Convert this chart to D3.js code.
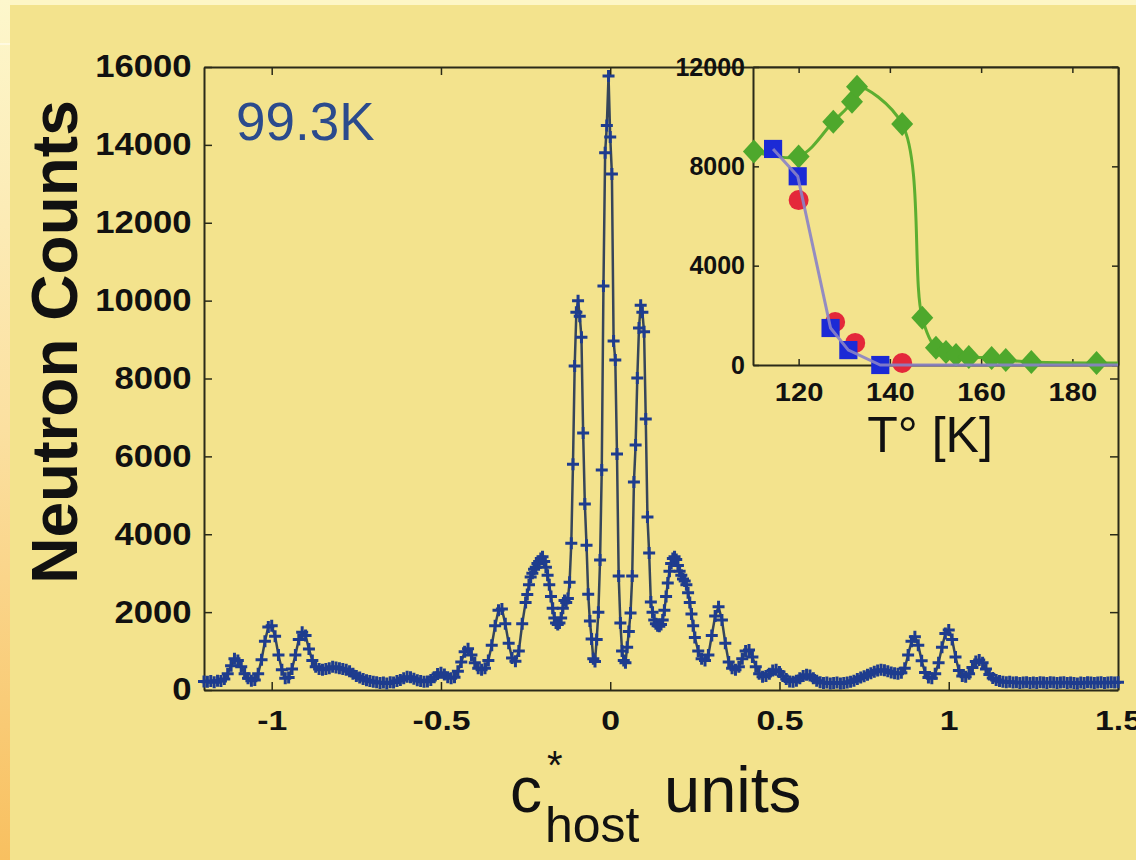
<!DOCTYPE html>
<html lang="en">
<head>
<meta charset="UTF-8">
<title>Neutron Counts - 99.3K</title>
<script src="https://d3js.org/d3.v7.min.js"></script>
<style>
  body { margin: 0; background: #f3e38d; }
  svg { display: block; }
  text { font-family: "Liberation Sans", Arial, sans-serif; fill: #111; }
  .tick text { font-weight: bold; }
  .domain { stroke: #2a2a18; stroke-width: 2; }
  .tick line { stroke: #2a2a18; stroke-width: 1.5; }
</style>
</head>
<body>
<svg id="chart" width="1136" height="860"></svg>
<script>
// main scan: [c* host units, neutron counts]
const scanPoints = [
  [-1.20, 220], [-1.19, 210], [-1.18, 230], [-1.17, 200], [-1.16, 240], [-1.15, 230],
  [-1.14, 280], [-1.13, 420], [-1.12, 620], [-1.11, 800], [-1.10, 760], [-1.09, 600],
  [-1.08, 420], [-1.07, 300], [-1.06, 240], [-1.05, 260], [-1.04, 420], [-1.03, 780],
  [-1.02, 1250], [-1.01, 1620], [-1.00, 1650], [-0.99, 1380], [-0.98, 900], [-0.97, 520],
  [-0.96, 300], [-0.95, 320], [-0.94, 540], [-0.93, 900], [-0.92, 1300], [-0.91, 1480],
  [-0.90, 1400], [-0.89, 1050], [-0.88, 760], [-0.87, 600], [-0.86, 540], [-0.85, 520],
  [-0.84, 540], [-0.83, 560], [-0.82, 600], [-0.81, 580], [-0.80, 560], [-0.79, 540],
  [-0.78, 520], [-0.77, 480], [-0.76, 420], [-0.75, 360], [-0.74, 320], [-0.73, 280],
  [-0.72, 250], [-0.71, 230], [-0.70, 210], [-0.69, 200], [-0.68, 180], [-0.67, 190],
  [-0.66, 170], [-0.65, 200], [-0.64, 190], [-0.63, 230], [-0.62, 260], [-0.61, 300],
  [-0.60, 340], [-0.59, 330], [-0.58, 290], [-0.57, 250], [-0.56, 230], [-0.55, 210],
  [-0.54, 220], [-0.53, 260], [-0.52, 330], [-0.51, 410], [-0.50, 440], [-0.49, 400],
  [-0.48, 330], [-0.47, 300], [-0.46, 330], [-0.45, 480], [-0.44, 720], [-0.43, 980],
  [-0.42, 1060], [-0.41, 900], [-0.40, 700], [-0.39, 560], [-0.38, 520], [-0.37, 560],
  [-0.36, 760], [-0.35, 1150], [-0.34, 1650], [-0.33, 2050], [-0.32, 2080], [-0.31, 1700],
  [-0.30, 1200], [-0.29, 820], [-0.28, 740], [-0.27, 1000], [-0.26, 1700],
  [-0.250, 2250], [-0.245, 2450], [-0.240, 2700], [-0.235, 2900], [-0.230, 3000],
  [-0.225, 3100], [-0.220, 3150], [-0.215, 3250], [-0.210, 3300], [-0.205, 3380],
  [-0.200, 3420], [-0.195, 3300], [-0.190, 3150], [-0.185, 2950], [-0.180, 2700],
  [-0.175, 2400], [-0.170, 2100], [-0.165, 1850], [-0.160, 1720], [-0.155, 1680],
  [-0.150, 1720], [-0.145, 1850], [-0.140, 2100], [-0.135, 2300], [-0.130, 2250],
  [-0.125, 2350], [-0.120, 2770], [-0.115, 3770], [-0.110, 5800], [-0.105, 8320],
  [-0.100, 9700], [-0.095, 10000], [-0.090, 9600], [-0.085, 9060], [-0.080, 6600],
  [-0.075, 4780], [-0.070, 3720], [-0.065, 2460], [-0.060, 1770], [-0.055, 1310],
  [-0.050, 800], [-0.045, 730], [-0.040, 1300], [-0.035, 2000], [-0.030, 3340],
  [-0.025, 5650], [-0.020, 10375], [-0.015, 13800], [-0.010, 14500], [-0.005, 15770],
  [0.000, 14200], [0.005, 13250], [0.010, 8960], [0.015, 8475], [0.020, 6060],
  [0.025, 2930], [0.030, 1720], [0.035, 1000], [0.040, 760], [0.045, 700],
  [0.050, 1100], [0.055, 1500], [0.060, 1980], [0.065, 2930], [0.070, 5340],
  [0.075, 6290], [0.080, 8010], [0.085, 9300], [0.090, 9880], [0.095, 9700],
  [0.100, 9200], [0.105, 6960], [0.110, 4440], [0.115, 3520], [0.120, 2260],
  [0.125, 2000], [0.130, 1800], [0.135, 1700], [0.140, 1650], [0.145, 1640],
  [0.150, 1680], [0.155, 1800], [0.160, 2050], [0.165, 2400], [0.170, 2750],
  [0.175, 3050], [0.180, 3250], [0.185, 3380], [0.190, 3420], [0.195, 3350],
  [0.200, 3200], [0.205, 3050], [0.210, 2950], [0.215, 2850], [0.220, 2800],
  [0.225, 2700], [0.230, 2500], [0.235, 2250], [0.240, 1950], [0.245, 1650],
  [0.250, 1350],
  [0.26, 1000], [0.27, 800], [0.28, 760], [0.29, 900], [0.30, 1400], [0.31, 1900],
  [0.32, 2140], [0.33, 1800], [0.34, 1200], [0.35, 720], [0.36, 560], [0.37, 520],
  [0.38, 600], [0.39, 800], [0.40, 1000], [0.41, 1030], [0.42, 850], [0.43, 600],
  [0.44, 420], [0.45, 340], [0.46, 360], [0.47, 420], [0.48, 500], [0.49, 520],
  [0.50, 460], [0.51, 360], [0.52, 280], [0.53, 220], [0.54, 210], [0.55, 240],
  [0.56, 300], [0.57, 360], [0.58, 390], [0.59, 370], [0.60, 300], [0.61, 240],
  [0.62, 200], [0.63, 180], [0.64, 190], [0.65, 170], [0.66, 180], [0.67, 190],
  [0.68, 170], [0.69, 180], [0.70, 190], [0.71, 210], [0.72, 240], [0.73, 280],
  [0.74, 320], [0.75, 350], [0.76, 390], [0.77, 430], [0.78, 470], [0.79, 500],
  [0.80, 520], [0.81, 510], [0.82, 480], [0.83, 450], [0.84, 430], [0.85, 420],
  [0.86, 440], [0.87, 560], [0.88, 900], [0.89, 1250], [0.90, 1370], [0.91, 1150],
  [0.92, 750], [0.93, 450], [0.94, 320], [0.95, 300], [0.96, 420], [0.97, 700],
  [0.98, 1100], [0.99, 1450], [1.00, 1540], [1.01, 1300], [1.02, 850], [1.03, 500],
  [1.04, 360], [1.05, 340], [1.06, 420], [1.07, 580], [1.08, 730], [1.09, 770],
  [1.10, 700], [1.11, 540], [1.12, 400], [1.13, 310], [1.14, 260], [1.15, 230],
  [1.16, 210], [1.17, 200], [1.18, 210], [1.19, 190], [1.20, 200], [1.21, 180],
  [1.22, 190], [1.23, 200], [1.24, 180], [1.25, 190], [1.26, 180], [1.27, 200],
  [1.28, 190], [1.29, 180], [1.30, 200], [1.31, 190], [1.32, 180], [1.33, 190],
  [1.34, 200], [1.35, 180], [1.36, 190], [1.37, 180], [1.38, 170], [1.39, 190],
  [1.40, 180], [1.41, 200], [1.42, 190], [1.43, 180], [1.44, 190], [1.45, 200],
  [1.46, 180], [1.47, 190], [1.48, 200], [1.49, 190], [1.50, 200]
];
const mainXTicks = [-1, -0.5, 0, 0.5, 1, 1.5];
const mainYTicks = [0, 2000, 4000, 6000, 8000, 10000, 12000, 14000, 16000];
const tempLabel = "99.3K";

// inset: intensity vs temperature
const greenT = [110.2, 120, 127.6, 131.7, 132.8, 142.7, 147.1, 150.1, 152.3, 154.5, 157.3, 162.3, 165.4, 171, 185.3];
const greenCounts = [8600, 8400, 9800, 10600, 11200, 9700, 1900, 690, 520, 400, 320, 280, 200, 120, 80];
const blueT = [114.4, 119.8, 127, 130.9, 137.9];
const blueCounts = [8700, 7600, 1490, 600, 0];
const redT = [120, 128, 132.4, 142.7];
const redCounts = [6640, 1730, 890, 80];
const insetXTicks = [120, 140, 160, 180];
const insetYTicks = [0, 4000, 8000, 12000];

const svg = d3.select("#chart");

// slide background
const grad = svg.append("defs").append("linearGradient")
    .attr("id", "edge").attr("x1", 0).attr("y1", 0).attr("x2", 0).attr("y2", 1);
grad.append("stop").attr("offset", "0%").attr("stop-color", "#fdf7cc");
grad.append("stop").attr("offset", "50%").attr("stop-color", "#fbe0a0");
grad.append("stop").attr("offset", "100%").attr("stop-color", "#f8c060");

svg.append("rect").attr("width", 1136).attr("height", 860).attr("fill", "#f3e38d");
svg.append("rect").attr("width", 1136).attr("height", 5).attr("fill", "#fdf6c6");
svg.append("rect").attr("width", 10).attr("height", 860).attr("fill", "url(#edge)");
svg.append("line").attr("x1", 0).attr("x2", 10).attr("y1", 44).attr("y2", 44)
    .attr("stroke", "#fffbe8").attr("stroke-width", 1.5);

// main plot
const x = d3.scaleLinear().domain([-1.2, 1.5]).range([204, 1118]);
const y = d3.scaleLinear().domain([0, 16000]).range([690, 67]);

svg.append("g")
    .attr("transform", "translate(0,690)")
    .call(d3.axisBottom(x).tickValues(mainXTicks).tickSizeInner(-8).tickSizeOuter(0)
        .tickPadding(21).tickFormat(d => String(d)))
    .call(g => g.selectAll("text").attr("font-size", 27).attr("transform", "scale(1.25,1)"));

svg.append("g")
    .attr("transform", "translate(0,67)")
    .call(d3.axisTop(x).tickValues(mainXTicks).tickSizeInner(-8).tickSizeOuter(0).tickFormat(""));

svg.append("g")
    .attr("transform", "translate(204,0)")
    .call(d3.axisLeft(y).tickValues(mainYTicks).tickSizeInner(-8).tickSizeOuter(0)
        .tickPadding(11).tickFormat(d => String(d)))
    .call(g => g.selectAll("text").attr("font-size", 31).attr("transform", "scale(1.12,1)"));

svg.append("g")
    .attr("transform", "translate(1118,0)")
    .call(d3.axisRight(y).tickValues(mainYTicks).tickSizeInner(-8).tickSizeOuter(0).tickFormat(""));

const scanLine = d3.line()
    .x(d => x(d[0]))
    .y(d => y(d[1]));

svg.append("path")
    .datum(scanPoints)
    .attr("fill", "none")
    .attr("stroke", "#36465a")
    .attr("stroke-width", 2.5)
    .attr("d", scanLine);

svg.append("g")
    .selectAll("path")
    .data(scanPoints)
    .join("path")
    .attr("transform", d => `translate(${x(d[0])},${y(d[1])})`)
    .attr("d", "M-6,0H6M0,-6V6")
    .attr("stroke", "#1e3c8e")
    .attr("stroke-width", 3);

svg.append("text")
    .attr("x", 236).attr("y", 140)
    .attr("font-size", 53)
    .style("fill", "#2b4b8d")
    .text(tempLabel);

svg.append("text")
    .attr("transform", "translate(77,342) rotate(-90)")
    .attr("text-anchor", "middle")
    .attr("font-size", 64)
    .attr("font-weight", "bold")
    .text("Neutron Counts");

// x label: c*_host units
svg.append("text").attr("x", 510).attr("y", 812).attr("font-size", 64).text("c");
svg.append("text").attr("x", 547).attr("y", 779).attr("font-size", 40).text("*");
svg.append("text").attr("x", 545).attr("y", 842).attr("font-size", 50).text("host");
svg.append("text").attr("x", 664).attr("y", 812).attr("font-size", 65).text("units");

// inset
const ix = d3.scaleLinear().domain([110, 190]).range([753, 1118]);
const iy = d3.scaleLinear().domain([0, 12000]).range([365, 67]);

svg.append("rect")
    .attr("x", ix.range()[0]).attr("y", iy.range()[1])
    .attr("width", ix.range()[1] - ix.range()[0])
    .attr("height", iy.range()[0] - iy.range()[1])
    .attr("fill", "#f3e38d");

svg.append("g")
    .attr("transform", "translate(0,365)")
    .call(d3.axisBottom(ix).tickValues(insetXTicks).tickSizeInner(-6).tickSizeOuter(0).tickPadding(18))
    .call(g => g.selectAll("text").attr("font-size", 26).attr("transform", "scale(1.12,1)"));

svg.append("g")
    .attr("transform", "translate(0,67)")
    .call(d3.axisTop(ix).tickValues(insetXTicks).tickSizeInner(-6).tickSizeOuter(0).tickFormat(""));

svg.append("g")
    .attr("transform", "translate(753,0)")
    .call(d3.axisLeft(iy).tickValues(insetYTicks).tickSizeInner(-6).tickSizeOuter(0)
        .tickPadding(8).tickFormat(d => String(d)))
    .call(g => g.selectAll("text").attr("font-size", 25));

svg.append("g")
    .attr("transform", "translate(1118,0)")
    .call(d3.axisRight(iy).tickValues(insetYTicks).tickSizeInner(-6).tickSizeOuter(0).tickFormat(""));

svg.append("text")
    .attr("x", 930).attr("y", 452)
    .attr("text-anchor", "middle")
    .attr("font-size", 50)
    .text("T° [K]");

const greenData = greenT.map((t, i) => [t, greenCounts[i]]);
const blueData = blueT.map((t, i) => [t, blueCounts[i]]);
const redData = redT.map((t, i) => [t, redCounts[i]]);

const tEnd = ix.domain()[1];
const greenFit = greenData.concat([[tEnd, greenCounts[greenCounts.length - 1]]]);
const blueFit = blueData.concat([[tEnd, blueCounts[blueCounts.length - 1]]]);

svg.append("path")
    .datum(greenFit)
    .attr("fill", "none")
    .attr("stroke", "#5cae30")
    .attr("stroke-width", 3)
    .attr("d", d3.line().curve(d3.curveCatmullRom.alpha(0.5)).x(d => ix(d[0])).y(d => iy(d[1])));

svg.append("g")
    .selectAll("path")
    .data(greenData)
    .join("path")
    .attr("transform", d => `translate(${ix(d[0])},${iy(d[1])})`)
    .attr("d", "M0,-12L11,0L0,12L-11,0Z")
    .attr("fill", "#4ea82c");

svg.append("g")
    .selectAll("circle")
    .data(redData)
    .join("circle")
    .attr("cx", d => ix(d[0]))
    .attr("cy", d => iy(d[1]))
    .attr("r", 10)
    .attr("fill", "#e4283a");

svg.append("g")
    .selectAll("path")
    .data(blueData)
    .join("path")
    .attr("transform", d => `translate(${ix(d[0])},${iy(d[1])})`)
    .attr("d", d3.symbol(d3.symbolSquare, 330))
    .attr("fill", "#1b2ad6");

svg.append("path")
    .datum(blueFit)
    .attr("fill", "none")
    .attr("stroke", "#8a82c6")
    .attr("stroke-width", 3)
    .attr("opacity", 0.9)
    .attr("d", d3.line().x(d => ix(d[0])).y(d => iy(d[1])));
</script>
</body>
</html>
